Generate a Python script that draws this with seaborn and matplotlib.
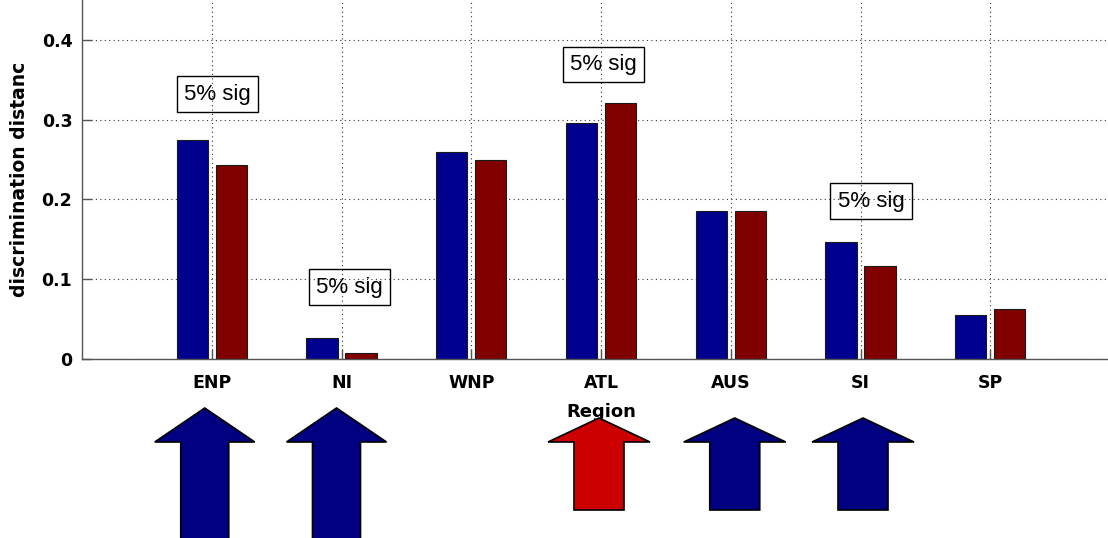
import matplotlib
matplotlib.use("Agg")
import matplotlib.pyplot as plt
from matplotlib.patches import Polygon
from matplotlib.transforms import IdentityTransform
import pandas as pd
import seaborn as sns

# ---- data -------------------------------------------------------------
regions = ["ENP", "NI", "WNP", "ATL", "AUS", "SI", "SP"]
first_set = [0.275, 0.026, 0.260, 0.296, 0.186, 0.147, 0.055]
second_set = [0.243, 0.008, 0.250, 0.321, 0.186, 0.117, 0.063]
set_names = ["first", "second"]

sig_regions = ["ENP", "NI", "ATL", "SI"]
sig_text = "5% sig"

arrow_regions = ["ENP", "NI", "ATL", "AUS", "SI"]
arrow_colors = ["#000080", "#000080", "#cc0000", "#000080", "#000080"]

yticks = [0, 0.1, 0.2, 0.3, 0.4]
ytick_labels = ["0", "0.1", "0.2", "0.3", "0.4"]

# ---- styling / layout -----------------------------------------------------
W, H = 1108, 538
bar_colors = ["#00008f", "#800000"]
spine_color = "#555555"

# label box placement: (x position in category units, y value)
sig_pos = {"ENP": (0.045, 0.332), "NI": (1.06, 0.090),
           "ATL": (3.02, 0.369), "SI": (5.08, 0.198)}
# arrow geometry in pixels: x offset, tip, head base, bottom, head half-width, shaft half-width
arrow_geom = {
    "ENP": (-7, 408, 442, 560, 50, 24),
    "NI": (-5, 408, 442, 560, 50, 24),
    "ATL": (-2, 418, 442, 510, 51, 25),
    "AUS": (4, 418, 442, 510, 51, 25),
    "SI": (2.5, 418, 442, 510, 51, 25),
}

df = pd.DataFrame({
    "region": regions * 2,
    "value": first_set + second_set,
    "set": [set_names[0]] * len(regions) + [set_names[1]] * len(regions),
})

fig = plt.figure(figsize=(W / 100, H / 100), dpi=100)
fig.patch.set_facecolor("white")
ax_left, ax_bottom = 82, H - 359
ax_right_px = 1120
ax = fig.add_axes([ax_left / W, ax_bottom / H, (ax_right_px - ax_left) / W, 359 / H])

sns.barplot(data=df, x="region", y="value", hue="set", order=regions,
            hue_order=set_names, palette=bar_colors, width=0.6, gap=0.2,
            edgecolor="#1a1a1a", linewidth=0.8, errorbar=None, legend=False,
            saturation=1, ax=ax, zorder=2)

ax.set_xlim(-1, len(regions))
ax.set_ylim(0, 0.45)
ax.set_yticks(yticks)
ax.set_yticklabels(ytick_labels)

ax.grid(True, linestyle=(0, (1, 3)), color="#333333", linewidth=0.8)
ax.set_axisbelow(True)

for side in ["top", "right"]:
    ax.spines[side].set_visible(False)
for side in ["left", "bottom"]:
    ax.spines[side].set_color(spine_color)
    ax.spines[side].set_linewidth(1.0)

ax.tick_params(axis="both", direction="in", length=7, width=1,
               color=spine_color, labelsize=12.5)
ax.tick_params(axis="x", pad=11)
ax.tick_params(axis="y", pad=7)
for lbl in ax.get_xticklabels() + ax.get_yticklabels():
    lbl.set_fontweight("bold")
    lbl.set_family("DejaVu Sans")

ax.set_xlabel("Region", fontsize=13, fontweight="bold", labelpad=8)
ax.set_ylabel("discrimination distanc", fontsize=13.5, fontweight="bold", labelpad=9)

# significance labels
for reg in sig_regions:
    xo, yv = sig_pos[reg]
    ax.text(xo, yv, sig_text, ha="center", va="center", fontsize=16,
            family="Liberation Sans", zorder=5,
            bbox=dict(boxstyle="square,pad=0.33", facecolor="none",
                      edgecolor="black", linewidth=1.0))

# direction arrows under the regions
for reg, col in zip(arrow_regions, arrow_colors):
    dx, tip, base, bottom, hw, sw = arrow_geom[reg]
    cx = ax.transData.transform((regions.index(reg), 0))[0] + dx
    pts = [(cx, tip), (cx + hw, base), (cx + sw, base), (cx + sw, bottom),
           (cx - sw, bottom), (cx - sw, base), (cx - hw, base)]
    pts = [(x, H - y) for x, y in pts]
    fig.add_artist(Polygon(pts, closed=True, facecolor=col, edgecolor="black",
                           linewidth=1.2, transform=IdentityTransform()))

fig.savefig("out.png", dpi=100)
